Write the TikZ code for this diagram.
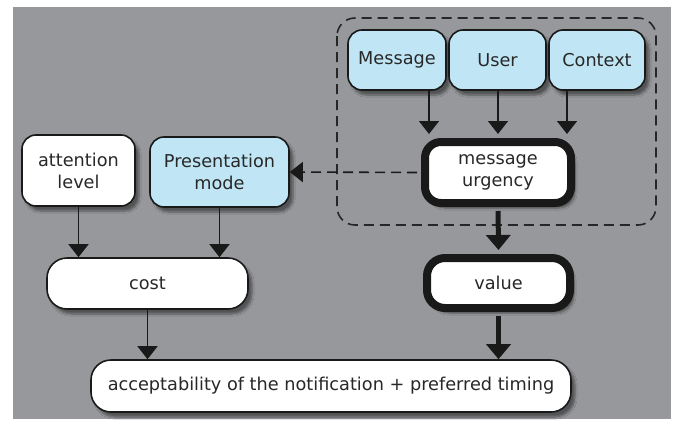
\documentclass[tikz,border=0pt]{standalone}
\usepackage{fontspec}
\setmainfont{DejaVu Sans}
\usetikzlibrary{arrows.meta,shadows.blur}
\definecolor{bg}{RGB}{150,152,155}
\definecolor{lblue}{RGB}{192,230,246}
\definecolor{txt}{RGB}{40,40,40}
\tikzset{
  thinhead/.tip={Triangle[width=20pt,length=13pt]},
  thickhead/.tip={Triangle[width=24pt,length=15pt]}
}
\begin{document}
\begin{tikzpicture}[x=1pt,y=1pt,
  box/.style={draw=black!90, line width=1.6pt, rounded corners=14pt, fill=white,
    inner sep=0pt, align=center, font=\fontsize{17.7}{22}\selectfont, text=txt,
    blur shadow={shadow xshift=4pt, shadow yshift=-5pt, shadow blur steps=6, shadow opacity=45}},
  bluebox/.style={box, fill=lblue},
  pill/.style={box, rounded corners=20pt},
  thickbox/.style={box, line width=8pt, rounded corners=16pt},
  arr/.style={draw=black!90, line width=1.6pt, arrows={-thinhead}},
  thickarr/.style={draw=black!90, line width=5pt, arrows={-thickhead}},
  grp/.style={draw=black!85, line width=1.6pt, dash pattern=on 10pt off 6pt, rounded corners=18pt}
]
\useasboundingbox (0,0) rectangle (674,-423);
\fill[white] (0,0) rectangle (674,-423);
\fill[bg] (13,-7) rectangle (671,-419);

% group frame
\draw[grp] (337,-18) rectangle (656,-225);

% nodes
\node[box, minimum width=113pt, minimum height=71pt] (att) at (78.5,-170.5) {attention\\level};
\node[bluebox, minimum width=139pt, minimum height=70pt] (pres) at (219.5,-172) {Presentation\\mode};
\node[bluebox, minimum width=98pt, minimum height=60pt] (msg) at (397,-60) {Message};
\node[bluebox, minimum width=97pt, minimum height=60pt] (usr) at (497.5,-60) {User};
\node[bluebox, minimum width=96pt, minimum height=60pt] (ctx) at (597,-60) {Context};
\node[thickbox, minimum width=146pt, minimum height=61pt] (urg) at (498,-172.5) {message\\urgency};
\node[pill, minimum width=201pt, minimum height=51pt] (cost) at (147.5,-283.5) {cost};
\node[thickbox, rounded corners=18pt, minimum width=143pt, minimum height=50pt] (val) at (498.5,-283) {value};
\node[pill, minimum width=480pt, minimum height=52pt] (acc) at (331,-386) {acceptability of the notification + preferred timing};

% connectors
\draw[arr] ([xshift=32pt]msg.south) -- ([xshift=32pt,yshift=4pt]msg.south |- urg.north);
\draw[arr] (usr.south -| urg.north) -- ([yshift=4pt]urg.north);
\draw[arr] ([xshift=-30pt]ctx.south) -- ([xshift=-30pt,yshift=4pt]ctx.south |- urg.north);
\draw[arr, dash pattern=on 10pt off 6pt, shorten <=4pt] (urg.west) -- (pres.east);
\draw[arr] (att.south) -- (att.south |- cost.north);
\draw[arr] (pres.south) -- (pres.south |- cost.north);
\draw[arr] (cost.south) -- (cost.south |- acc.north);
\draw[thickarr, shorten <=4pt] (urg.south) -- ([yshift=4pt]val.north);
\draw[thickarr, shorten <=4pt] (val.south) -- (val.south |- acc.north);
\end{tikzpicture}
\end{document}
